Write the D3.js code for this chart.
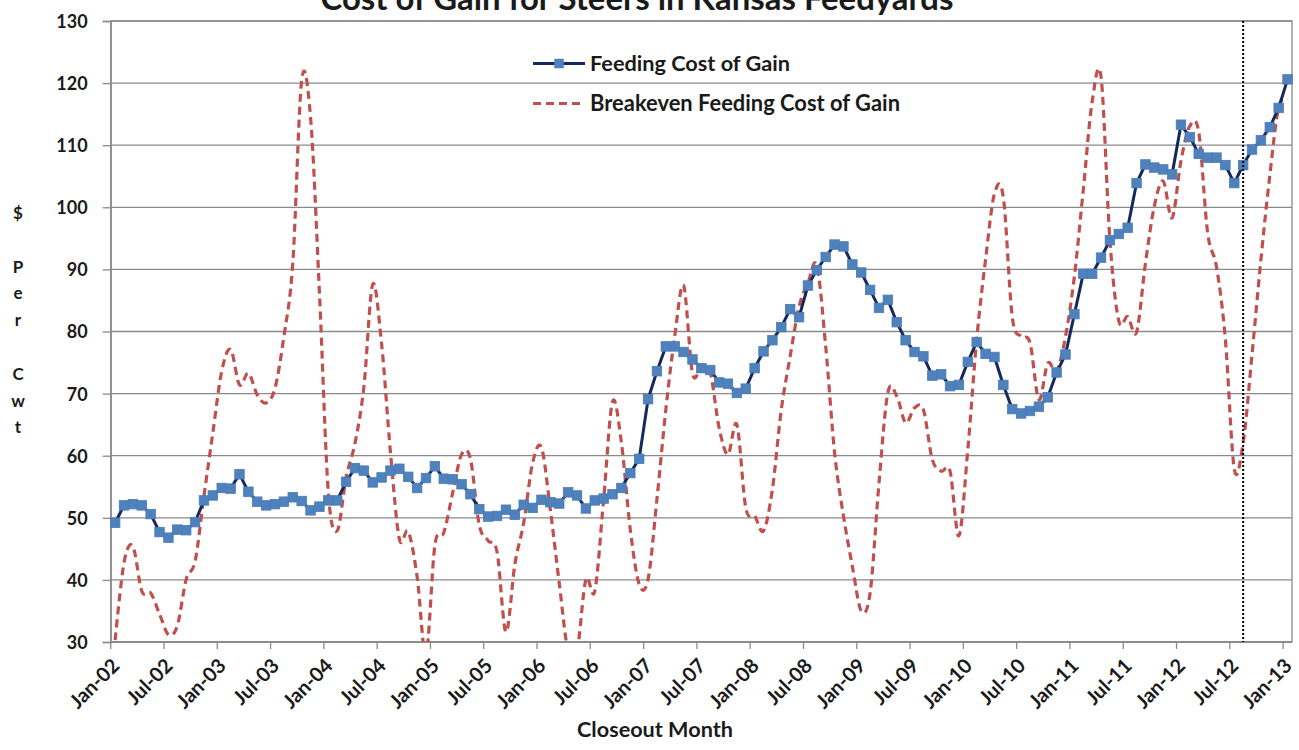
<!DOCTYPE html>
<html>
<head>
<meta charset="utf-8">
<script src="https://cdn.jsdelivr.net/npm/d3@7"></script>
<style>
  html, body { margin: 0; padding: 0; background: #ffffff; }
  svg { display: block; font-family: Lato, "Open Sans", "DejaVu Sans", sans-serif; font-weight: bold; }
</style>
</head>
<body>
<svg id="chart" width="1299" height="750"></svg>
<script>
// Closeout months, Jan-02 through Jan-13
const firstMonth = new Date(2002, 0, 1);
const lastMonth = new Date(2013, 0, 1);
const fmtMonth = d3.timeFormat("%b-%y");
const months = d3.timeMonths(firstMonth, d3.timeDay.offset(lastMonth, 1)).map(fmtMonth);

// Feeding cost of gain, $/cwt, one value per closeout month
const feedingCost = [
  49.2, 52.0, 52.2, 52.0, 50.6, 47.7, 46.8, 48.1, 48.0, 49.3, 52.8, 53.6,
  54.8, 54.7, 57.0, 54.2, 52.6, 52.0, 52.2, 52.6, 53.3, 52.7, 51.2, 51.8,
  52.8, 52.8, 55.8, 58.0, 57.6, 55.7, 56.5, 57.6, 57.9, 56.6, 54.8, 56.4,
  58.3, 56.3, 56.2, 55.4, 53.8, 51.4, 50.2, 50.3, 51.3, 50.5, 52.1, 51.6,
  52.9, 52.5, 52.3, 54.1, 53.6, 51.5, 52.8, 53.1, 53.8, 54.8, 57.2, 59.5,
  69.1, 73.6, 77.6, 77.6, 76.7, 75.5, 74.1, 73.8, 71.8, 71.6, 70.1, 70.8,
  74.1, 76.8, 78.6, 80.7, 83.6, 82.3, 87.4, 89.9, 92.0, 94.0, 93.7, 90.8,
  89.5, 86.7, 83.8, 85.1, 81.5, 78.6, 76.7, 76.0, 72.9, 73.1, 71.2, 71.4,
  75.1, 78.3, 76.4, 75.9, 71.4, 67.5, 66.8, 67.2, 67.9, 69.4, 73.4, 76.3,
  82.8, 89.3, 89.3, 91.9, 94.7, 95.7, 96.7, 103.9, 106.9, 106.4, 106.1, 105.3,
  113.3, 111.3, 108.6, 108.0, 108.0, 106.8, 103.9, 106.8, 109.3, 110.8, 112.9, 116.0,
  120.6
];

// Breakeven feeding cost of gain, $/cwt
const breakevenCost = [
  30.3, 42.8, 45.4, 38.2, 37.9, 34.5, 31.2, 32.6, 40.1, 43.0, 53.5, 63.7,
  73.6, 77.1, 71.4, 73.3, 69.8, 68.5, 70.9, 79.2, 91.0, 120.4, 114.5, 86.3,
  54.1, 47.9, 56.5, 62.0, 71.0, 87.6, 78.0, 60.5, 46.6, 47.8, 40.5, 28.0,
  45.6, 47.6, 54.0, 60.2, 59.5, 48.8, 46.3, 44.5, 31.6, 42.5, 49.2, 58.8,
  61.3, 51.3, 39.5, 28.5, 28.5, 40.1, 38.2, 53.0, 68.7, 62.1, 48.1, 39.3,
  40.1, 53.0, 67.4, 79.2, 87.4, 73.3, 74.2, 73.4, 64.5, 60.2, 65.0, 51.6,
  50.3, 47.9, 54.6, 67.4, 76.0, 84.0, 87.8, 90.6, 77.6, 60.5, 50.3, 42.2,
  35.0, 37.9, 55.6, 70.2, 69.6, 65.3, 67.7, 67.4, 59.4, 57.5, 57.5, 47.1,
  61.0, 78.7, 91.6, 102.2, 101.6, 82.4, 79.2, 78.2, 69.0, 74.9, 73.6, 79.2,
  88.9, 102.8, 117.0, 121.0, 94.7, 81.7, 82.4, 79.9, 91.0, 100.2, 104.2, 98.3,
  107.5, 113.1, 112.1, 95.9, 90.4, 78.7, 57.9, 62.1, 76.3, 91.6, 105.1, 116.1,
  117.4
];

// Axis labels
const xTickLabels = [
  "Jan-02", "Jul-02", "Jan-03", "Jul-03", "Jan-04", "Jul-04", "Jan-05", "Jul-05",
  "Jan-06", "Jul-06", "Jan-07", "Jul-07", "Jan-08", "Jul-08", "Jan-09", "Jul-09",
  "Jan-10", "Jul-10", "Jan-11", "Jul-11", "Jan-12", "Jul-12", "Jan-13"
];
const yTicks = [30, 40, 50, 60, 70, 80, 90, 100, 110, 120, 130];
const yTitleLines = ["$", "", "P", "e", "r", "", "C", "w", "t"];
const markerMonth = "Aug-12";

const chartTitle = "Cost of Gain for Steers in Kansas Feedyards";
const seriesNames = ["Feeding Cost of Gain", "Breakeven Feeding Cost of Gain"];
const xTitle = "Closeout Month";

// Layout
const plot = { left: 110.7, right: 1292, top: 21, bottom: 642 };
const gridColor = "#8a8a8a";
const blueLine = "#14295c";
const blueMarker = "#4f81bd";
const redLine = "#c0504d";

const svg = d3.select("#chart");

// Shrink or grow a text's font size so its rendered width equals target
function fitWidth(sel, target) {
  const node = sel.node();
  const size = parseFloat(sel.attr("font-size"));
  const w = node.getComputedTextLength();
  sel.attr("font-size", (size * target / w).toFixed(2));
  return sel;
}

const x = d3.scaleBand().domain(months).range([plot.left, plot.right]).paddingInner(0).paddingOuter(0);
const xc = m => x(m) + x.bandwidth() / 2;
const y = d3.scaleLinear().domain([30, 130]).range([plot.bottom, plot.top]);

// Horizontal gridlines
svg.append("g")
  .selectAll("line")
  .data(yTicks)
  .join("line")
  .attr("x1", plot.left).attr("x2", plot.right)
  .attr("y1", d => y(d)).attr("y2", d => y(d))
  .attr("stroke", gridColor).attr("stroke-width", 1.3);

// Plot area frame
svg.append("rect")
  .attr("x", plot.left).attr("y", plot.top)
  .attr("width", plot.right - plot.left).attr("height", plot.bottom - plot.top)
  .attr("fill", "none").attr("stroke", gridColor).attr("stroke-width", 1.3);

// Y axis
const yAxis = svg.append("g")
  .attr("transform", `translate(${plot.left},0)`)
  .call(d3.axisLeft(y).tickValues(yTicks).tickSize(8).tickPadding(15).tickFormat(d3.format("d")));
yAxis.select(".domain").attr("stroke", gridColor).attr("stroke-width", 1.3);
yAxis.selectAll(".tick line").attr("stroke", gridColor).attr("stroke-width", 1.3);
yAxis.selectAll(".tick text")
  .attr("font-family", "Lato, sans-serif").attr("font-weight", "bold")
  .attr("font-size", 18).attr("fill", "#1a1a1a").attr("dy", "0.36em");

// X axis ticks at month boundaries, labels every six months
const xAxis = svg.append("g");
xAxis.append("line")
  .attr("x1", plot.left).attr("x2", plot.right)
  .attr("y1", plot.bottom).attr("y2", plot.bottom)
  .attr("stroke", gridColor).attr("stroke-width", 1.3);
xAxis.selectAll("line.tick")
  .data(xTickLabels)
  .join("line")
  .attr("class", "tick")
  .attr("x1", d => x(d)).attr("x2", d => x(d))
  .attr("y1", plot.bottom).attr("y2", plot.bottom + 7)
  .attr("stroke", gridColor).attr("stroke-width", 1.3);
xAxis.selectAll("text")
  .data(xTickLabels)
  .join("text")
  .attr("transform", d => `translate(${x(d) + 10},${plot.bottom + 25}) rotate(-45)`)
  .attr("text-anchor", "end")
  .attr("font-size", 20)
  .attr("fill", "#1a1a1a")
  .text(d => d);

// Breakeven series: smoothed dashed line, clipped to the plot area
svg.append("clipPath").attr("id", "plotClip")
  .append("rect")
  .attr("x", plot.left).attr("y", plot.top)
  .attr("width", plot.right - plot.left).attr("height", plot.bottom - plot.top);

const smooth = d3.line()
  .x((d, i) => xc(months[i]))
  .y(d => y(d))
  .curve(d3.curveCatmullRom.alpha(0));

svg.append("path")
  .datum(breakevenCost)
  .attr("clip-path", "url(#plotClip)")
  .attr("d", smooth)
  .attr("fill", "none")
  .attr("stroke", redLine)
  .attr("stroke-width", 3.2)
  .attr("stroke-dasharray", "8,5");

// Feeding cost series: straight segments with square markers
const straight = d3.line()
  .x((d, i) => xc(months[i]))
  .y(d => y(d));

svg.append("path")
  .datum(feedingCost)
  .attr("d", straight)
  .attr("fill", "none")
  .attr("stroke", blueLine)
  .attr("stroke-width", 3);

const msize = 9.5;
svg.append("g")
  .selectAll("rect")
  .data(feedingCost)
  .join("rect")
  .attr("x", (d, i) => xc(months[i]) - msize / 2)
  .attr("y", d => y(d) - msize / 2)
  .attr("width", msize).attr("height", msize)
  .attr("fill", blueMarker)
  .attr("stroke", "#4a7bb7").attr("stroke-width", 0.8);

// Vertical dotted reference line
svg.append("line")
  .attr("x1", xc(markerMonth)).attr("x2", xc(markerMonth))
  .attr("y1", plot.top).attr("y2", plot.bottom)
  .attr("stroke", "#000000").attr("stroke-width", 2)
  .attr("stroke-dasharray", "2,2");

// Legend
const legend = svg.append("g");
const legX0 = 533, legX1 = 585, legText = 590;
const legY = [63.5, 103.5];
legend.append("line")
  .attr("x1", legX0).attr("x2", legX1).attr("y1", legY[0]).attr("y2", legY[0])
  .attr("stroke", blueLine).attr("stroke-width", 3);
legend.append("rect")
  .attr("x", (legX0 + legX1) / 2 - msize / 2).attr("y", legY[0] - msize / 2)
  .attr("width", msize).attr("height", msize)
  .attr("fill", blueMarker);
legend.append("line")
  .attr("x1", legX0).attr("x2", legX1).attr("y1", legY[1]).attr("y2", legY[1])
  .attr("stroke", redLine).attr("stroke-width", 3.2)
  .attr("stroke-dasharray", "8,5");
fitWidth(legend.append("text")
  .attr("x", legText).attr("y", legY[0] + 7)
  .attr("font-size", 18).attr("fill", "#1a1a1a")
  .text(seriesNames[0]), 200);
fitWidth(legend.append("text")
  .attr("x", legText).attr("y", legY[1] + 7)
  .attr("font-size", 18).attr("fill", "#1a1a1a")
  .text(seriesNames[1]), 310);

// Title, partly above the top edge
fitWidth(svg.append("text")
  .attr("x", 637).attr("y", 10)
  .attr("text-anchor", "middle")
  .attr("font-size", 24).attr("fill", "#1a1a1a")
  .text(chartTitle), 633);

// Axis titles
fitWidth(svg.append("text")
  .attr("x", 655).attr("y", 737)
  .attr("text-anchor", "middle")
  .attr("font-size", 18).attr("fill", "#1a1a1a")
  .text(xTitle), 156);

svg.append("g")
  .selectAll("text")
  .data(yTitleLines)
  .join("text")
  .attr("x", 18)
  .attr("y", (d, i) => 219 + i * 26.8)
  .attr("text-anchor", "middle")
  .attr("font-size", 17)
  .attr("fill", "#1a1a1a")
  .text(d => d);
</script>
</body>
</html>
